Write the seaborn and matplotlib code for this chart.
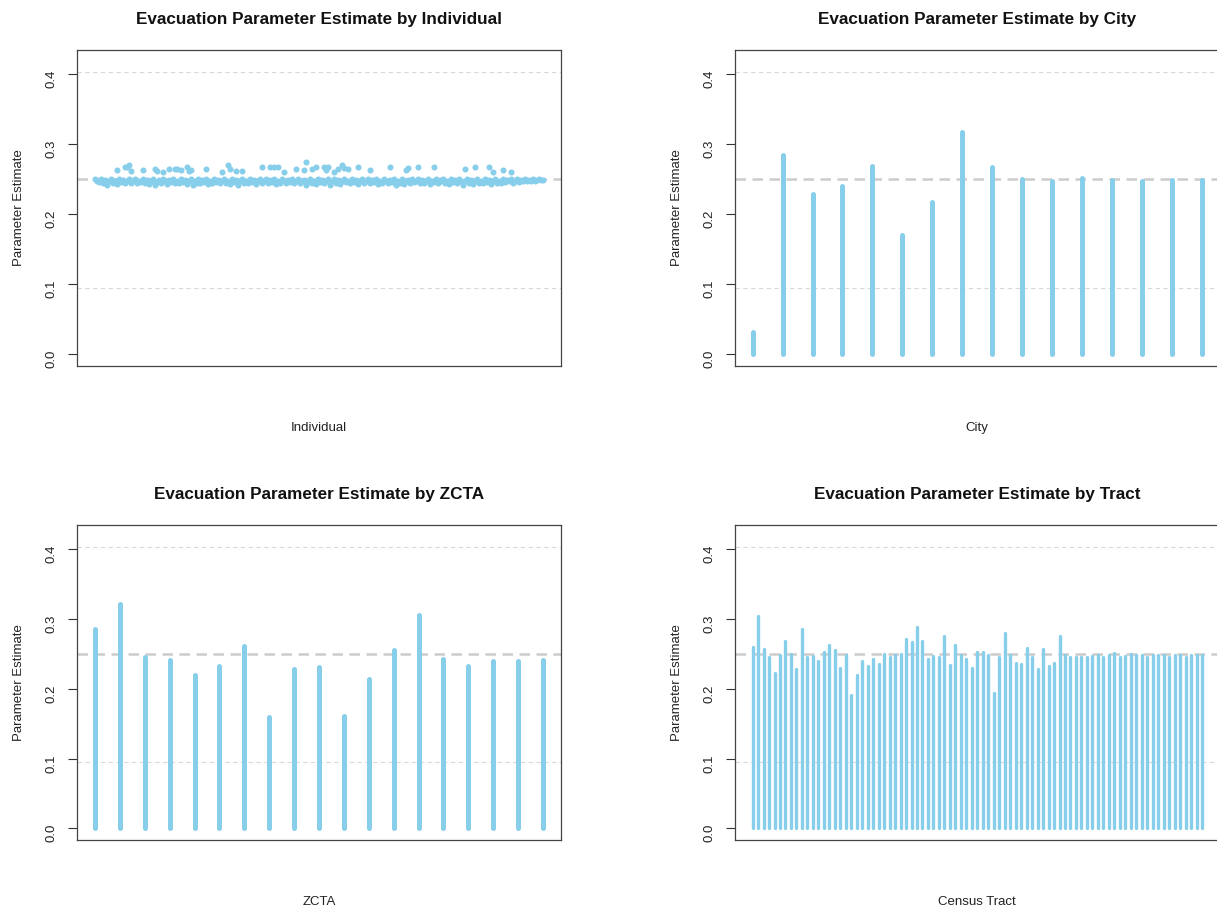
import pandas as pd
import seaborn as sns
import matplotlib
matplotlib.use("Agg")
import matplotlib.pyplot as plt

# values
# individual estimates (main band), one per individual id 1..226
indiv_band = [
    0.250, 0.248, 0.246, 0.250, 0.244, 0.249, 0.242, 0.247, 0.250, 0.245, 0.248, 0.243, 0.250, 0.246, 0.249, 0.244, 0.248, 0.250, 0.245, 0.247,
    0.250, 0.244, 0.248, 0.246, 0.250, 0.245, 0.249, 0.243, 0.247, 0.250, 0.242, 0.246, 0.249, 0.244, 0.250, 0.247, 0.243, 0.249, 0.246, 0.250,
    0.245, 0.248, 0.244, 0.250, 0.246, 0.249, 0.243, 0.247, 0.250, 0.242, 0.248, 0.245, 0.250, 0.244, 0.249, 0.246, 0.250, 0.243, 0.248, 0.245,
    0.250, 0.246, 0.249, 0.244, 0.247, 0.250, 0.245, 0.248, 0.243, 0.250, 0.246, 0.249, 0.242, 0.247, 0.250, 0.244, 0.248, 0.245, 0.250, 0.246,
    0.249, 0.243, 0.248, 0.250, 0.245, 0.247, 0.250, 0.244, 0.249, 0.246, 0.250, 0.243, 0.248, 0.245, 0.250, 0.247, 0.244, 0.249, 0.246, 0.250,
    0.245, 0.248, 0.250, 0.244, 0.247, 0.249, 0.242, 0.246, 0.250, 0.245, 0.248, 0.243, 0.250, 0.246, 0.249, 0.244, 0.248, 0.250, 0.242, 0.247,
    0.250, 0.245, 0.249, 0.243, 0.247, 0.250, 0.246, 0.248, 0.244, 0.250, 0.246, 0.249, 0.243, 0.248, 0.250, 0.245, 0.247, 0.250, 0.244, 0.249,
    0.246, 0.250, 0.243, 0.248, 0.245, 0.250, 0.247, 0.244, 0.249, 0.246, 0.250, 0.242, 0.248, 0.245, 0.250, 0.243, 0.247, 0.249, 0.244, 0.250,
    0.246, 0.248, 0.250, 0.244, 0.249, 0.245, 0.247, 0.250, 0.243, 0.248, 0.246, 0.250, 0.244, 0.249, 0.247, 0.250, 0.245, 0.248, 0.243, 0.250,
    0.246, 0.249, 0.244, 0.250, 0.247, 0.242, 0.248, 0.250, 0.245, 0.249, 0.243, 0.247, 0.250, 0.245, 0.248, 0.244, 0.250, 0.246, 0.249, 0.243,
    0.248, 0.250, 0.245, 0.247, 0.244, 0.250, 0.246, 0.249, 0.247, 0.250, 0.245, 0.248, 0.250, 0.246, 0.249, 0.247, 0.250, 0.248, 0.249, 0.247,
    0.250, 0.248, 0.249, 0.250, 0.249, 0.249,
]
# individuals sitting above the band
out_idx = [12, 16, 17, 18, 19, 25, 31, 32, 35, 38, 41, 42, 44, 47, 48, 49, 57, 65, 68, 69,
           72, 75, 85, 89, 91, 93, 96, 102, 106, 107, 110, 112, 116, 117, 118, 121, 123, 125, 126, 128,
           133, 139, 149, 157, 158, 163, 171, 187, 192, 199, 201, 206, 210]
out_val = [0.263, 0.268, 0.267, 0.270, 0.262, 0.263, 0.265, 0.262, 0.261, 0.265, 0.264, 0.264, 0.263, 0.268, 0.262, 0.263, 0.265, 0.261, 0.271, 0.265,
           0.262, 0.262, 0.267, 0.267, 0.268, 0.268, 0.261, 0.265, 0.263, 0.274, 0.265, 0.267, 0.268, 0.263, 0.267, 0.260, 0.265, 0.271, 0.266, 0.265,
           0.268, 0.263, 0.267, 0.263, 0.266, 0.268, 0.268, 0.265, 0.267, 0.267, 0.261, 0.263, 0.261]

city_est = [0.032, 0.284, 0.229, 0.241, 0.269, 0.171, 0.217, 0.317, 0.268, 0.251, 0.247, 0.252, 0.249, 0.247, 0.249, 0.249]

zcta_est = [0.286, 0.322, 0.246, 0.241, 0.220, 0.232, 0.261, 0.160, 0.228, 0.231, 0.161, 0.214, 0.255, 0.305, 0.243, 0.232, 0.239, 0.239, 0.241]

tract_est = [
    0.260, 0.304, 0.257, 0.246, 0.223, 0.248, 0.269, 0.250, 0.228, 0.285, 0.246, 0.247, 0.240, 0.253, 0.263, 0.256, 0.230, 0.248, 0.191, 0.219,
    0.240, 0.233, 0.243, 0.236, 0.250, 0.245, 0.249, 0.250, 0.271, 0.267, 0.289, 0.269, 0.243, 0.247, 0.245, 0.275, 0.234, 0.263, 0.248, 0.242,
    0.230, 0.253, 0.253, 0.248, 0.194, 0.245, 0.280, 0.248, 0.237, 0.236, 0.258, 0.245, 0.228, 0.257, 0.233, 0.237, 0.275, 0.248, 0.246, 0.245,
    0.245, 0.246, 0.247, 0.248, 0.246, 0.248, 0.251, 0.245, 0.247, 0.250, 0.248, 0.248, 0.246, 0.248, 0.248, 0.248, 0.246, 0.248, 0.248, 0.246,
    0.248, 0.248, 0.248,
]

y_ticks = [0.0, 0.1, 0.2, 0.3, 0.4]
y_tick_labels = ["0.0", "0.1", "0.2", "0.3", "0.4"]
light_lines = [0.095, 0.4025]
mid_line = 0.25

sns.set_style("ticks")
plt.rcParams["font.family"] = ["Liberation Sans", "DejaVu Sans"]

COL = "#87CEEB"
W, H = 1217, 911
fig = plt.figure(figsize=(W / 100, H / 100), dpi=100)


def add_ax(left, top, right, bottom):
    # pixel box -> figure fraction
    return fig.add_axes([left / W, 1 - bottom / H, (right - left) / W, (bottom - top) / H])


def style(ax, n, title, xlabel):
    for y in light_lines:
        ax.axhline(y, color="#d9d9d9", lw=0.8, dashes=(4.0, 3.0), zorder=0)
    ax.axhline(mid_line, color="#cccccc", lw=1.8, dashes=(4.2, 2.6), zorder=0)
    pad = 0.04 * (n - 1)
    ax.set_xlim(1 - pad, n + pad)
    ax.set_ylim(-0.0167, 0.4345)
    ax.set_xticks([])
    ax.set_yticks(y_ticks, y_tick_labels)
    ax.tick_params(axis="y", length=6.7, width=0.8, pad=7, labelsize=9.5,
                   labelrotation=90, color="#333333", labelcolor="#222222")
    for sp in ax.spines.values():
        sp.set_visible(True)
        sp.set_color("#444444")
        sp.set_linewidth(0.9)
    ax.set_title(title, fontsize=12.3, fontweight="bold", pad=19, color="#111111")
    ax.set_xlabel(xlabel, fontsize=9.5, labelpad=40, color="#222222")
    ax.set_ylabel("Parameter Estimate", fontsize=9.5, labelpad=15, color="#222222")


# individual
ax1 = add_ax(77, 50, 561, 366)
band = pd.DataFrame({"id": range(1, len(indiv_band) + 1), "est": indiv_band})
outs = pd.DataFrame({"id": out_idx, "est": out_val})
indiv = pd.concat([band, outs], ignore_index=True)
sns.scatterplot(data=indiv, x="id", y="est", ax=ax1, color=COL, s=19, linewidth=0, zorder=3)
style(ax1, len(indiv_band), "Evacuation Parameter Estimate by Individual", "Individual")

# stems for the grouped estimates
panels = [
    (add_ax(734.6, 50, 1220, 366), city_est, "Evacuation Parameter Estimate by City", "City", 3.6),
    (add_ax(77, 525, 561, 840), zcta_est, "Evacuation Parameter Estimate by ZCTA", "ZCTA", 3.6),
    (add_ax(734.6, 525, 1220, 840), tract_est, "Evacuation Parameter Estimate by Tract", "Census Tract", 2.4),
]
for ax, vals, title, xlab, lw in panels:
    pos = list(range(1, len(vals) + 1))
    ax.vlines(pos, 0, vals, color=COL, lw=lw, capstyle="round", zorder=3)
    style(ax, len(vals), title, xlab)

fig.savefig("out.png", dpi=100)
